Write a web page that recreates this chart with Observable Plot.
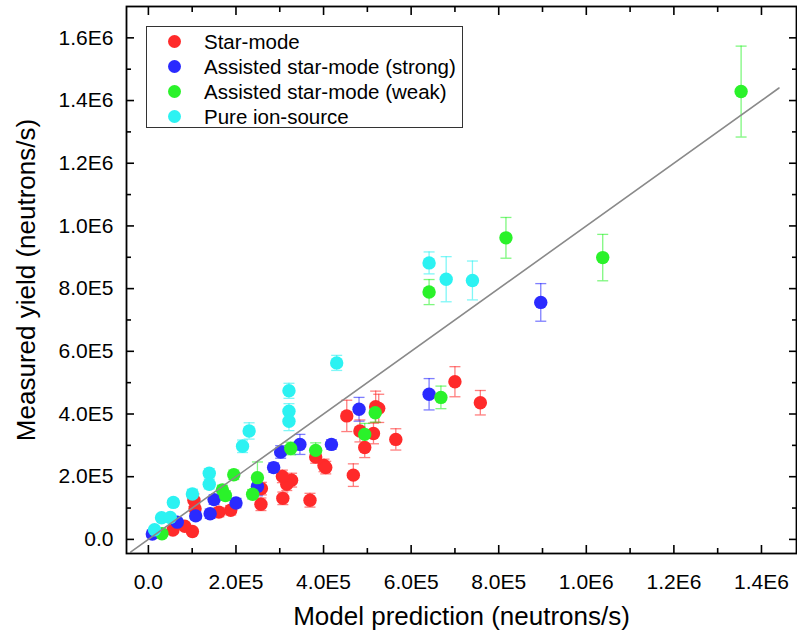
<!DOCTYPE html>
<html><head><meta charset="utf-8">
<script src="https://cdn.jsdelivr.net/npm/d3@7"></script>
<script src="https://cdn.jsdelivr.net/npm/@observablehq/plot@0.6"></script>
<style>
body{margin:0;background:#fff;}
#wrap{position:relative;width:797px;height:639px;font-family:"Liberation Sans",Arial,sans-serif;}
.legend{position:absolute;left:146px;top:26px;width:317px;height:102px;border:1px solid #333;box-sizing:border-box;background:#fff;}
.row{position:absolute;left:0;height:25px;display:flex;align-items:center;font-size:20.5px;color:#000;white-space:nowrap;}
.sw{width:13px;height:13px;border-radius:50%;margin-left:21px;margin-right:23px;}
</style></head>
<body><div id="wrap"></div>
<script>
const seriesNames = ["Star-mode","Assisted star-mode (strong)","Assisted star-mode (weak)","Pure ion-source"];
const seriesColors = ["#ff2a2a","#2a2aff","#2af22a","#2cf2f2"];

// Star-mode: [model prediction, measured yield, error]
const starX = [700000,758000,453000,519000,526000,483000,514000,494000,565000,382000,401000,405000,468000,327000,316000,306000,307000,369000,258000,257000,188000,161000,104000,106500,100500,83000,56000];
const starY = [503000,436000,394000,423000,418000,346000,338000,293000,319000,263000,236000,229000,205000,189000,176000,201000,131000,125000,162000,112000,93000,87000,125000,98000,25000,42000,30000];
const starE = [48000,39000,50000,50000,45000,35000,33000,32000,34000,20000,20000,20000,36000,22000,20000,20000,20000,22000,20000,20000,15000,15000,20000,15000,10000,10000,8000];

const strongX = [896000,641000,481000,418000,346000,302000,286000,249000,200000,150000,141000,108000,66000,9000];
const strongY = [756000,463000,415000,303000,303000,279000,229000,169000,116000,127000,82000,75000,55000,17000];
const strongE = [60000,50000,38000,15000,32000,20000,15000,30000,15000,15000,15000,12000,10000,10000];

const weakX = [1353500,1037500,816500,641000,668000,518000,494000,382000,325000,249000,238000,195000,169000,176000,31000];
const weakY = [1428600,899000,962000,789000,453000,404000,335000,284000,290000,197000,144000,206000,158000,140000,18000];
const weakE = [145000,74000,65000,40000,36000,30000,35000,24000,20000,50000,15000,15000,15000,15000,8000];

const pureX = [641000,680000,740000,430000,321000,321000,321000,230000,215000,139000,139000,100500,57000,30000,50000,14000];
const pureY = [882000,830000,826000,563000,474000,409000,377000,346000,297000,211000,176000,145000,118000,69000,70000,31000];
const pureE = [35000,72000,62000,24000,24000,24000,30000,26000,20000,15000,15000,15000,12000,10000,10000,8000];

const fitX = [-40000, 1440000];
const fitY = [-40000, 1440000];

const xMajor = [0,200000,400000,600000,800000,1000000,1200000,1400000];
const xMinor = [100000,300000,500000,700000,900000,1100000,1300000];
const yMajor = [0,200000,400000,600000,800000,1000000,1200000,1400000,1600000];
const yMinor = [100000,300000,500000,700000,900000,1100000,1300000,1500000];

const xTitle = "Model prediction (neutrons/s)";
const yTitle = "Measured yield (neutrons/s)";

function fmt(d){
  if (d === 0) return "0.0";
  const e = Math.floor(Math.log10(Math.abs(d)) + 1e-9);
  return (d / Math.pow(10, e)).toFixed(1) + "E" + e;
}

const groups = [[starX,starY,starE],[strongX,strongY,strongE],[weakX,weakY,weakE],[pureX,pureY,pureE]];
const pts = [];
groups.forEach((g, i) => g[0].forEach((x, j) => pts.push({series: seriesNames[i], x, y: g[1][j], err: g[2][j]})));
const caps = [];
pts.forEach(p => { caps.push({series: p.series, x: p.x, y: p.y - p.err}); caps.push({series: p.series, x: p.x, y: p.y + p.err}); });
const fit = fitX.map((x, i) => ({x, y: fitY[i]}));

const capSymbol = {draw(ctx, size){ const w = Math.sqrt(size / Math.PI); ctx.moveTo(-w, 0); ctx.lineTo(w, 0); }};
const blank = () => "";

const chart = Plot.plot({
  width: 797, height: 639,
  marginLeft: 126, marginRight: 1, marginTop: 6, marginBottom: 86,
  style: {fontFamily: "'Liberation Sans', Arial, sans-serif", fontSize: "21px", color: "#000", background: "#fff"},
  x: {domain: [-50000, 1480000]},
  y: {domain: [-45000, 1700000]},
  color: {domain: seriesNames, range: seriesColors},
  marks: [
    Plot.ruleX(pts, {x: "x", y1: d => d.y - d.err, y2: d => d.y + d.err, stroke: "series", strokeOpacity: 0.6, strokeWidth: 1.3}),
    Plot.dot(caps, {x: "x", y: "y", symbol: capSymbol, r: 5.5, stroke: "series", strokeOpacity: 0.6, strokeWidth: 1.3, fill: "none"}),
    Plot.dot(pts, {x: "x", y: "y", r: 6.7, fill: "series", stroke: "none"}),
    Plot.line(fit, {x: "x", y: "y", stroke: "#8a8a8a", strokeWidth: 1.6}),
    Plot.frame({stroke: "#000", strokeWidth: 1.8}),
    Plot.axisX(xMajor, {anchor: "bottom", tickSize: 0, tickPadding: 21, tickFormat: fmt, label: null}),
    Plot.axisX(xMajor, {anchor: "bottom", tickSize: -8, tickFormat: blank, label: null, strokeWidth: 1.6}),
    Plot.axisX(xMinor, {anchor: "bottom", tickSize: -5, tickFormat: blank, label: null, strokeWidth: 1.6}),
    Plot.axisX(xMajor, {anchor: "top", tickSize: -8, tickFormat: blank, label: null, strokeWidth: 1.6}),
    Plot.axisX(xMinor, {anchor: "top", tickSize: -5, tickFormat: blank, label: null, strokeWidth: 1.6}),
    Plot.axisY(yMajor, {anchor: "left", tickSize: 0, tickPadding: 13, tickFormat: fmt, label: null}),
    Plot.axisY(yMajor, {anchor: "left", tickSize: -8, tickFormat: blank, label: null, strokeWidth: 1.6}),
    Plot.axisY(yMinor, {anchor: "left", tickSize: -5, tickFormat: blank, label: null, strokeWidth: 1.6}),
    Plot.axisY(yMajor, {anchor: "right", tickSize: -8, tickFormat: blank, label: null, strokeWidth: 1.6}),
    Plot.axisY(yMinor, {anchor: "right", tickSize: -5, tickFormat: blank, label: null, strokeWidth: 1.6}),
    Plot.text([xTitle], {frameAnchor: "bottom", dy: 53, lineAnchor: "top", textAnchor: "middle", fontSize: 26, text: d => d}),
    Plot.text([yTitle], {frameAnchor: "left", dx: -110, rotate: -90, lineAnchor: "top", textAnchor: "middle", fontSize: 26, text: d => d})
  ]
});

const wrap = document.getElementById("wrap");
wrap.appendChild(chart);

const legend = document.createElement("div");
legend.className = "legend";
seriesNames.forEach((name, i) => {
  const row = document.createElement("div");
  row.className = "row";
  row.style.top = (2 + i * 25.1) + "px";
  const sw = document.createElement("span");
  sw.className = "sw";
  sw.style.background = seriesColors[i];
  const t = document.createElement("span");
  t.textContent = name;
  row.appendChild(sw); row.appendChild(t);
  legend.appendChild(row);
});
wrap.appendChild(legend);
</script>
</body></html>
